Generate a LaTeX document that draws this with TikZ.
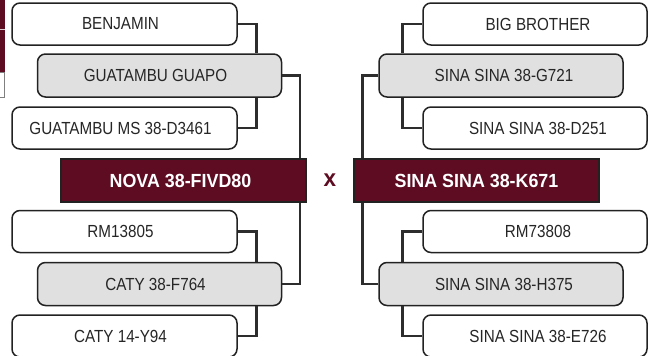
\documentclass[tikz,border=0pt]{standalone}
\usepackage{fontspec}
\setmainfont{Liberation Sans}[FakeStretch=0.87]
\newfontfamily\titlefont{Liberation Sans}[FakeStretch=0.94]
\definecolor{maroon}{RGB}{94,12,34}
\definecolor{boxgray}{RGB}{224,224,224}
\definecolor{edge}{RGB}{34,34,34}
\definecolor{wire}{RGB}{45,45,45}
\begin{document}
\begin{tikzpicture}[x=1pt,y=-1pt,
  entry/.style={draw=edge, line width=1.5pt, rounded corners=8pt, fill=white,
    minimum height=42pt, inner sep=0pt, text=black!85,
    font=\fontsize{17.5}{19}\selectfont},
  wleft/.style={entry, minimum width=225pt},
  wright/.style={entry, minimum width=224pt},
  gbox/.style={entry, fill=boxgray, minimum width=244pt, minimum height=43pt},
  main/.style={draw=edge, line width=1.5pt, fill=maroon, text=white,
    minimum width=245pt, minimum height=43pt, inner sep=0pt,
    font=\titlefont\bfseries\fontsize{19}{21}\selectfont},
  conn/.style={draw=wire, line width=2.5pt}]
\useasboundingbox (0,0) rectangle (654,356);
% cropped fragment at top left
\fill[maroon] (0,0) rectangle (4.5,72);
\draw[white!80!maroon, line width=0.6pt] (0,29) -- (4.5,29);
\draw[gray, line width=0.8pt, fill=white] (-1,72) -- (4.5,72) -- (4.5,97) -- (-1,97);
% left side
\node[wleft] (b1) at (124.5,24) {\hspace*{-8pt}BENJAMIN};
\node[wleft] (b3) at (124.5,128) {\hspace*{-8pt}GUATAMBU MS 38-D3461};
\node[gbox] (g1) at (159.5,75.5) {\hspace*{-8pt}GUATAMBU GUAPO};
\node[main] (n1) at (183.5,180.5) {\hspace*{-6pt}NOVA 38-FIVD80};
\node[wleft] (b5) at (124.5,231.5) {\hspace*{-8pt}RM13805};
\node[wleft] (b7) at (124.5,336) {\hspace*{-8pt}CATY 14-Y94};
\node[gbox] (g2) at (159.5,284) {\hspace*{-8pt}CATY 38-F764};
% cross
\node[text=maroon, font=\titlefont\bfseries\fontsize{24}{26}\selectfont, inner sep=0pt] (cross) at (330,180) {x};
% right side
\node[wright] (r1) at (535,24) {\hspace*{6pt}BIG BROTHER};
\node[wright] (r3) at (535,128) {\hspace*{6pt}SINA SINA 38-D251};
\node[gbox] (rg1) at (501,75.5) {\hspace*{6pt}SINA SINA 38-G721};
\node[main] (n2) at (476.5,180.5) {SINA SINA 38-K671};
\node[wright] (r5) at (535,231.5) {\hspace*{6pt}RM73808};
\node[wright] (r7) at (535,336) {\hspace*{6pt}SINA SINA 38-E726};
\node[gbox] (rg2) at (501,284) {\hspace*{6pt}SINA SINA 38-H375};
% connectors left
\draw[conn] (b1.east) -| ([xshift=-26pt]g1.north east);
\draw[conn] (b3.east) -| ([xshift=-26pt]g1.south east);
\draw[conn] (g1.east) -| ([xshift=-7pt]n1.north east);
\draw[conn] (b5.east) -| ([xshift=-26pt]g2.north east);
\draw[conn] (b7.east) -| ([xshift=-26pt]g2.south east);
\draw[conn] (g2.east) -| ([xshift=-7pt]n1.south east);
% connectors right
\draw[conn] (r1.west) -| ([xshift=24pt]rg1.north west);
\draw[conn] (r3.west) -| ([xshift=24pt]rg1.south west);
\draw[conn] (rg1.west) -| ([xshift=9pt]n2.north west);
\draw[conn] (r5.west) -| ([xshift=24pt]rg2.north west);
\draw[conn] (r7.west) -| ([xshift=24pt]rg2.south west);
\draw[conn] (rg2.west) -| ([xshift=9pt]n2.south west);
\end{tikzpicture}
\end{document}
